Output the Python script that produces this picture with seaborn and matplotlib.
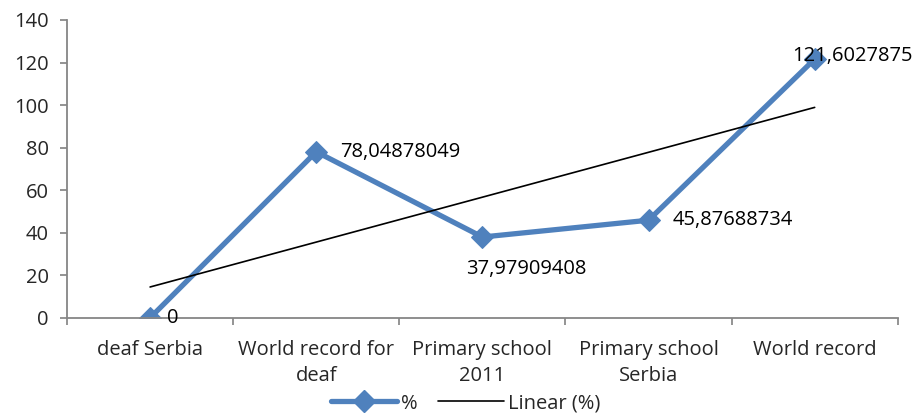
import numpy as np
import pandas as pd
import matplotlib
matplotlib.use("Agg")
import matplotlib.pyplot as plt
import seaborn as sns
from matplotlib.lines import Line2D

categories = ["deaf Serbia", "World record for\ndeaf", "Primary school\n2011",
              "Primary school\nSerbia", "World record"]
values = [0, 78.04878049, 37.97909408, 45.87688734, 121.6027875]
value_labels = ["0", "78,04878049", "37,97909408", "45,87688734", "121,6027875"]
y_ticks = [0, 20, 40, 60, 80, 100, 120, 140]

sns.set_theme(style="white")
plt.rcParams["font.family"] = ["Open Sans", "DejaVu Sans"]
FS = 14.5

df = pd.DataFrame({"pos": np.arange(len(categories)), "value": values})

fig = plt.figure(figsize=(9.22, 4.16), dpi=100)
ax = fig.add_axes([0.0727, 0.236, 0.901, 0.716])

blue = "#4F81BD"
sns.lineplot(data=df, x="pos", y="value", ax=ax, color=blue, linewidth=3.8,
             marker="D", markersize=11, markeredgecolor=blue, legend=False)

# Linear trend line
coef = np.polyfit(df["pos"], df["value"], 1)
trend = np.polyval(coef, df["pos"])
ax.plot(df["pos"], trend, color="black", linewidth=1.2)

# Data labels
offsets = [(12, 0), (17, 0), (-12, -23), (17, 0), (-16, 2)]
for x, v, lab, (dx, dy) in zip(df["pos"], values, value_labels, offsets):
    ax.annotate(lab, (x, v), xytext=(dx, dy), textcoords="offset points",
                ha="left", va="center", fontsize=FS, color="black")

ax.set_xlim(-0.5, len(categories) - 0.5)
ax.set_ylim(0, 140)
ax.set_yticks(y_ticks)
ax.set_yticklabels([str(t) for t in y_ticks], fontsize=FS)
ax.set_xticks(np.arange(-0.5, len(categories), 1.0))
ax.set_xticklabels([])
ax.set_xticks(np.arange(len(categories)), minor=True)
ax.set_xticklabels(categories, minor=True, fontsize=FS, linespacing=1.4)
ax.tick_params(axis="x", which="minor", length=0, pad=16)
ax.tick_params(axis="x", which="major", length=5, direction="out", color="#868686", bottom=True)
ax.tick_params(axis="y", length=5, direction="out", color="#868686", left=True, pad=8)
ax.set_xlabel("")
ax.set_ylabel("")
for s in ["top", "right"]:
    ax.spines[s].set_visible(False)
for s in ["left", "bottom"]:
    ax.spines[s].set_color("#868686")
    ax.spines[s].set_linewidth(1.3)

handles = [Line2D([0], [0], color=blue, linewidth=3.8, marker="D", markersize=11),
           Line2D([0], [0], color="black", linewidth=1.2)]
fig.legend(handles, ["%", "Linear (%)"], loc="center", bbox_to_anchor=(0.505, 0.03),
           ncol=2, frameon=False, fontsize=FS, handlelength=3.3,
           columnspacing=1.0, handletextpad=0.2)

fig.savefig("out.png", dpi=100)
